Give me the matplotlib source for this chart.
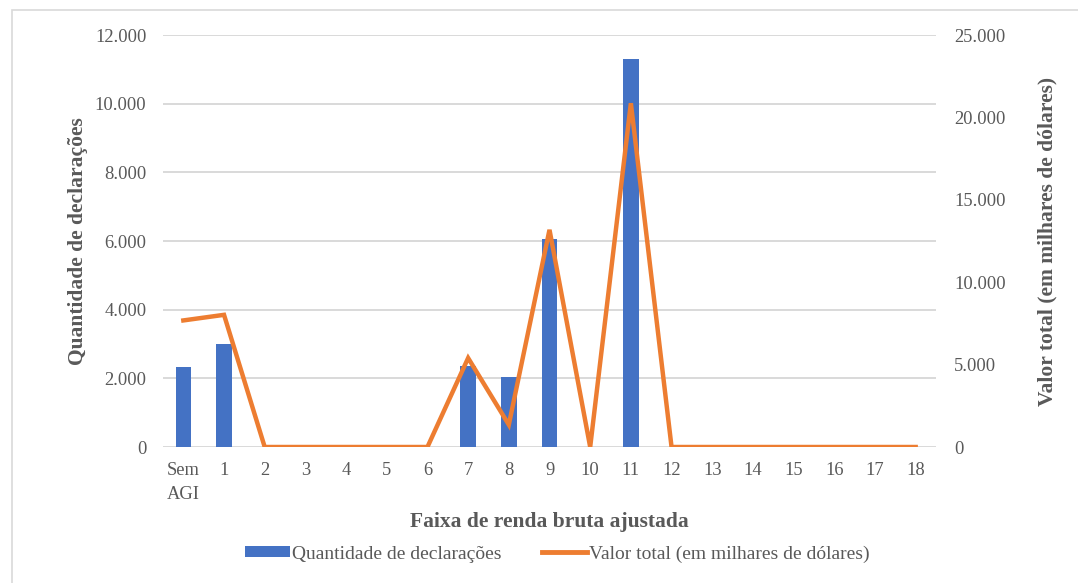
import matplotlib
matplotlib.use("Agg")
import matplotlib.pyplot as plt
from matplotlib.patches import Patch, Rectangle
from matplotlib.lines import Line2D
from matplotlib.ticker import FuncFormatter
import numpy as np

categories = ["Sem\nAGI", "1", "2", "3", "4", "5", "6", "7", "8", "9", "10",
              "11", "12", "13", "14", "15", "16", "17", "18"]
quantidade = [2330, 3000, 0, 0, 0, 0, 0, 2360, 2030, 6060, 0,
              11300, 0, 0, 0, 0, 0, 0, 0]
valor_total = [7680, 8020, 0, 0, 0, 0, 0, 5400, 1350, 13180, 0,
               20860, 0, 0, 0, 0, 0, 0, 0]

bar_color = "#4472C4"
line_color = "#ED7D31"
grid_color = "#D9D9D9"
text_color = "#595959"
font = ["Liberation Serif", "DejaVu Serif"]

plt.rcParams["font.family"] = font

fig = plt.figure(figsize=(10.78, 5.83), dpi=100)
W, H = 1078, 583
ax1 = fig.add_axes([163 / W, 1 - 447 / H, (936 - 163) / W, (447 - 35) / H])
ax2 = ax1.twinx()

# figure border
fig.patches.append(Rectangle((12 / W, -0.1), 1.2, 1 - 10 / H + 0.1,
                             transform=fig.transFigure, fill=False,
                             edgecolor="#D9D9D9", linewidth=1.2))

x = np.arange(len(categories))
ax1.bar(x, quantidade, width=0.38, color=bar_color, zorder=2)
ax2.plot(x, valor_total, color=line_color, linewidth=3.2,
         solid_joinstyle="miter", zorder=3)

ax1.set_xlim(-0.5, len(categories) - 0.5)
ax1.set_ylim(0, 12000)
ax2.set_ylim(0, 25000)
ax1.set_yticks(np.arange(0, 12001, 2000))
ax2.set_yticks(np.arange(0, 25001, 5000))

fmt = FuncFormatter(lambda v, p: f"{int(v):,}".replace(",", "."))
ax1.yaxis.set_major_formatter(fmt)
ax2.yaxis.set_major_formatter(fmt)

ax1.set_xticks(x)
ax1.set_xticklabels(categories, linespacing=1.55)

ax1.yaxis.grid(True, color=grid_color, linewidth=1.4, zorder=0)
ax1.set_axisbelow(True)

for ax in (ax1, ax2):
    for s in ax.spines.values():
        s.set_visible(False)
    ax.tick_params(length=0, labelsize=13.3, colors=text_color)

ax1.tick_params(axis="y", pad=12)
ax2.tick_params(axis="y", pad=13)
ax1.tick_params(axis="x", pad=11)
for lab in ax1.get_xticklabels():
    lab.set_verticalalignment("top")

ax1.set_xlabel("Faixa de renda bruta ajustada", fontsize=15.5,
               fontweight="bold", color=text_color, labelpad=6)
ax1.set_ylabel("Quantidade de declarações", fontsize=15.5,
               fontweight="bold", color=text_color, labelpad=5)
ax2.set_ylabel("Valor total (em milhares de dólares)", fontsize=15.5,
               fontweight="bold", color=text_color, labelpad=23)

handles = [Patch(facecolor=bar_color, edgecolor="none"),
           Line2D([0], [0], color=line_color, linewidth=3.5)]
labels = ["Quantidade de declarações", "Valor total (em milhares de dólares)"]
leg = fig.legend(handles, labels, loc="center", bbox_to_anchor=(557 / W, 1 - 554 / H),
                 ncol=2, frameon=False, fontsize=14, handlelength=2.3,
                 handleheight=0.5, handletextpad=0.1, columnspacing=2.1)
for t in leg.get_texts():
    t.set_color(text_color)

fig.savefig("out.png", dpi=100)
